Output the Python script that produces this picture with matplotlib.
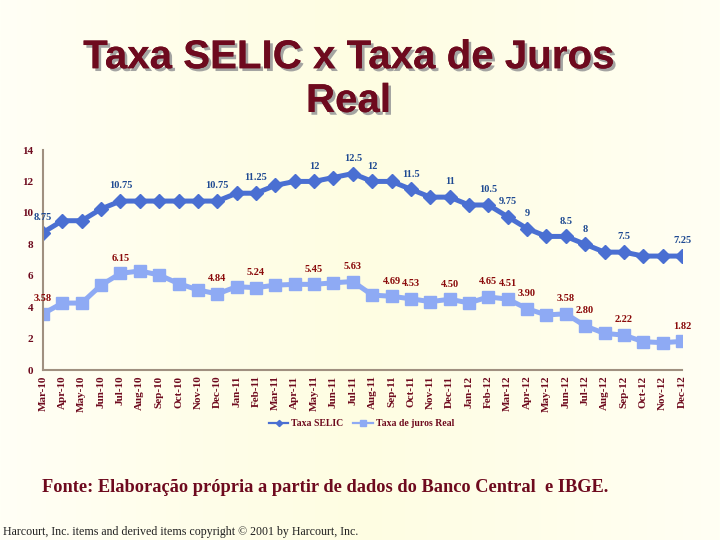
import numpy as np
import matplotlib
matplotlib.use("Agg")
import matplotlib.pyplot as plt
from matplotlib import patheffects
from matplotlib.colors import LinearSegmentedColormap

# dados
meses = ["Mar-10", "Apr-10", "May-10", "Jun-10", "Jul-10", "Aug-10", "Sep-10",
         "Oct-10", "Nov-10", "Dec-10", "Jan-11", "Feb-11", "Mar-11", "Apr-11",
         "May-11", "Jun-11", "Jul-11", "Aug-11", "Sep-11", "Oct-11", "Nov-11",
         "Dec-11", "Jan-12", "Feb-12", "Mar-12", "Apr-12", "May-12", "Jun-12",
         "Jul-12", "Aug-12", "Sep-12", "Oct-12", "Nov-12", "Dec-12"]

selic = [8.75, 9.5, 9.5, 10.25, 10.75, 10.75, 10.75, 10.75, 10.75, 10.75,
         11.25, 11.25, 11.75, 12, 12, 12.25, 12.5, 12, 12, 11.5, 11, 11,
         10.5, 10.5, 9.75, 9, 8.5, 8.5, 8, 7.5, 7.5, 7.25, 7.25, 7.25]

juros_real = [3.58, 4.26, 4.26, 5.40, 6.15, 6.30, 6.05, 5.50, 5.10, 4.84,
              5.30, 5.24, 5.40, 5.45, 5.45, 5.55, 5.63, 4.77, 4.69, 4.53,
              4.35, 4.50, 4.27, 4.65, 4.51, 3.90, 3.50, 3.58, 2.80, 2.33,
              2.22, 1.80, 1.74, 1.82]

# quais pontos recebem rótulo
rotulos_selic = [0, 4, 9, 11, 14, 16, 17, 19, 21, 23, 24, 25, 27, 28, 30, 33]
rotulos_real = [0, 4, 9, 11, 14, 16, 18, 19, 21, 23, 24, 25, 27, 28, 30, 33]

VERMELHO = "#6e0a1e"
AZUL = "#4a6fd2"
AZUL_CLARO = "#8eaaf4"
SERIF = ["Liberation Serif", "DejaVu Serif"]

fig = plt.figure(figsize=(7.2, 5.4), dpi=100)

# fundo creme em degradê suave
bg = fig.add_axes([0, 0, 1, 1], zorder=-10)
cmap = LinearSegmentedColormap.from_list(
    "creme", ["#fffff6", "#fffeea", "#fefde2", "#fffeea", "#fffff4"])
grad = np.linspace(0, 1, 256).reshape(1, -1)
bg.imshow(grad, aspect="auto", cmap=cmap, extent=[0, 1, 0, 1])
bg.axis("off")

# título com sombra
sombra = [patheffects.withSimplePatchShadow(offset=(2, -2), shadow_rgbFace="#9a9a9a",
                                            alpha=0.9),
          patheffects.Normal()]
fig.text(0.484, 0.894, "Taxa SELIC x Taxa de Juros", ha="center", va="center",
         fontsize=29, fontweight="bold", color=VERMELHO,
         family="Liberation Sans", path_effects=sombra)
fig.text(0.484, 0.813, "Real", ha="center", va="center",
         fontsize=29, fontweight="bold", color=VERMELHO,
         family="Liberation Sans", path_effects=sombra)

ax = fig.add_axes([43 / 720, 170 / 540, 639 / 720, 220 / 540])
ax.patch.set_alpha(0)
x = np.arange(len(meses))

ax.plot(x, selic, color=AZUL, lw=3.6, marker="D", ms=7, mec=AZUL, mfc=AZUL,
        label="Taxa SELIC", solid_joinstyle="round")
ax.plot(x, juros_real, color=AZUL_CLARO, lw=3.6, marker="s", ms=8.5,
        mec=AZUL_CLARO, mfc=AZUL_CLARO, label="Taxa de juros Real",
        solid_joinstyle="round")

for i in rotulos_selic:
    v = selic[i]
    ax.annotate("%g" % v, (x[i], v), xytext=(0, 11), textcoords="offset points",
                ha="center", va="center", fontsize=7.5, fontweight="bold",
                color="#1f4a92", family=SERIF)

for i in rotulos_real:
    v = juros_real[i]
    ax.annotate("%.2f" % v, (x[i], v), xytext=(0, 11), textcoords="offset points",
                ha="center", va="center", fontsize=7.5, fontweight="bold",
                color="#8a0a0a", family=SERIF)

ax.set_xlim(0, len(meses) - 1)
ax.set_ylim(0, 14)
ax.set_yticks(range(0, 15, 2))
ax.set_xticks(x)
ax.set_xticklabels(meses, rotation=90)
ax.tick_params(length=0, colors=VERMELHO, labelsize=8)
ax.tick_params(axis="y", pad=7)
ax.tick_params(axis="x", pad=4)
for lab in ax.get_xticklabels() + ax.get_yticklabels():
    lab.set_family(SERIF)
    lab.set_fontweight("bold")

for s in ["top", "right"]:
    ax.spines[s].set_visible(False)
for s in ["left", "bottom"]:
    ax.spines[s].set_color("#a09080")
    ax.spines[s].set_linewidth(1.5)

leg = fig.legend(loc="center", bbox_to_anchor=(0.502, 0.215), ncol=2,
                 frameon=False, handlelength=2.0, columnspacing=1.0,
                 handletextpad=0.3, markerscale=0.45,
                 prop={"family": SERIF, "weight": "bold", "size": 7})
for t in leg.get_texts():
    t.set_color(VERMELHO)
for h in leg.get_lines():
    h.set_linewidth(1.6)

fig.text(42 / 720, 1 - 487 / 540,
         "Fonte: Elaboração própria a partir de dados do Banco Central  e IBGE.",
         ha="left", va="center", fontsize=13.2, fontweight="bold",
         color=VERMELHO, family=SERIF)
fig.text(3 / 720, 1 - 532 / 540,
         "Harcourt, Inc. items and derived items copyright © 2001 by Harcourt, Inc.",
         ha="left", va="center", fontsize=8.6, color="#202020", family=SERIF)

fig.savefig("out.png", dpi=100)
